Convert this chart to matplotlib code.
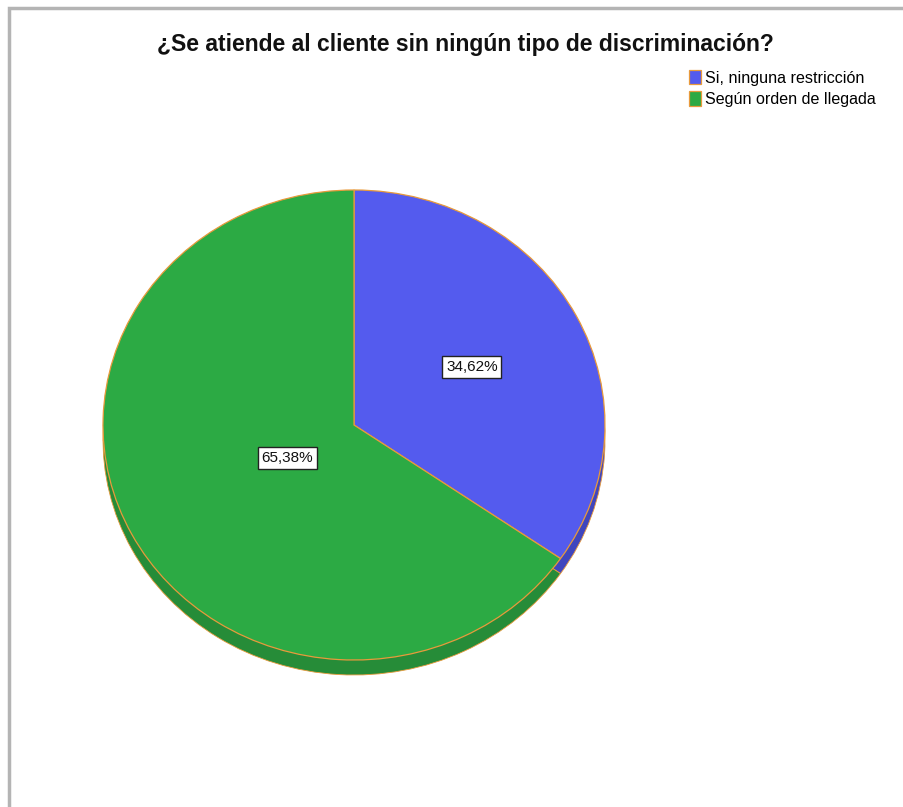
import numpy as np
import matplotlib.pyplot as plt
from matplotlib.patches import Rectangle

plt.rcParams['font.family'] = ['Liberation Sans', 'DejaVu Sans']

# Pie data
categories = ['Si, ninguna restricción', 'Según orden de llegada']
percentages = [34.62, 65.38]
title = '¿Se atiende al cliente sin ningún tipo de discriminación?'

top_colors = ['#545bee', '#2caa44']
side_colors = ['#4046be', '#268c38']
edge_color = '#e89a3c'

W, H = 904, 807
fig = plt.figure(figsize=(W / 100, H / 100), dpi=100)

# frame lines along the top and left side
fig.add_artist(Rectangle((8.5 / W, -0.1), 2.0, 1.1 - 8 / H, transform=fig.transFigure,
                         fill=False, edgecolor='#b4b4b4', linewidth=2.5))

# axes in pixels: x spans 103..605, top of pie at y=190, 235 px per unit vertically
ry = 235
depth = 15 / ry
ylo, yhi = -1.2, 1.0
ax_h = (yhi - ylo) * ry
ax = fig.add_axes([103 / W, (H - 190 - ax_h) / H, 502 / W, ax_h / H])

# side of the pie (shifted copy drawn underneath)
ax.pie(percentages, colors=side_colors, startangle=90, counterclock=False,
       center=(0, -depth), radius=1.0,
       wedgeprops=dict(edgecolor=edge_color, linewidth=0.6), frame=False)

# top face
wedges, _ = ax.pie(percentages, colors=top_colors, startangle=90, counterclock=False,
                   center=(0, 0), radius=1.0,
                   wedgeprops=dict(edgecolor=edge_color, linewidth=0.9), frame=False)

ax.set_aspect('auto')
ax.set_xlim(-1.0, 1.0)
ax.set_ylim(ylo, yhi)
ax.axis('off')

# percentage labels in boxes
label_r = [0.53, 0.30]
start = 90.0
for pct, r in zip(percentages, label_r):
    mid = np.deg2rad(start - pct * 3.6 / 2)
    ax.text(r * np.cos(mid), r * np.sin(mid), f'{pct:.2f}%'.replace('.', ','),
            ha='center', va='center', fontsize=11, color='#111111',
            bbox=dict(boxstyle='square,pad=0.25', facecolor='white',
                      edgecolor='#222222', linewidth=1.0))
    start -= pct * 3.6

fig.text(465 / W, 1 - 45 / H, title, ha='center', va='center',
         fontsize=16.5, fontweight='bold', color='#111111')

fig.legend(wedges, categories, loc='upper left', bbox_to_anchor=(689 / W, 1 - 70 / H),
           frameon=False, fontsize=11.6, handlelength=0.72, handleheight=1.0,
           handletextpad=0.3, labelspacing=0.35, borderpad=0, borderaxespad=0)

fig.savefig('out.png', dpi=100, facecolor='white')
